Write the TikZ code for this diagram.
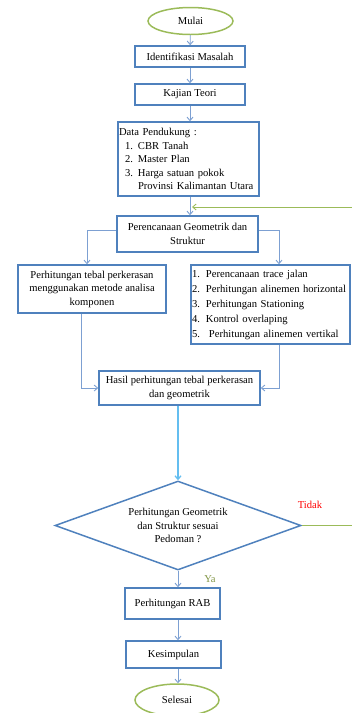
\documentclass[tikz,border=0pt]{standalone}
\usepackage{fontspec}
\setmainfont{Liberation Serif}
\usepackage{xcolor}
\usetikzlibrary{shapes.geometric,arrows.meta}
\definecolor{boxblue}{RGB}{79,129,189}
\definecolor{linkblue}{RGB}{125,160,210}
\definecolor{skyline}{RGB}{100,190,240}
\definecolor{oval}{RGB}{155,187,89}
\definecolor{yagreen}{RGB}{130,150,70}
\tikzstyle{proses}=[draw=boxblue,line width=1.5pt,align=center,inner sep=2pt,font=\fontsize{10.6}{13.5}\selectfont]
\tikzstyle{terminal}=[ellipse,draw=oval,line width=1.5pt,font=\fontsize{10.6}{13.5}\selectfont]
\tikzstyle{alur}=[draw=linkblue,line width=0.9pt,-{Straight Barb[length=3.5pt,width=6pt]}]

\begin{document}
\begin{tikzpicture}[x=1pt,y=-1pt]
					\useasboundingbox (0,0) rectangle (352,713);
					\node [terminal,minimum width=85pt,minimum height=27pt] (mulai) at (190.5,21) {Mulai};
					\node [proses,minimum width=110pt,minimum height=21pt] (identifikasi) at (190,56.5) {Identifikasi Masalah};
					\node [proses,minimum width=110pt,minimum height=21pt] (kajian) at (190,94.5) {Kajian Teori};
					\node [proses,minimum width=141pt,minimum height=74pt,align=left,inner xsep=1pt,text width=139pt] (data) at (188.5,159) {Data Pendukung :\\
						\hspace*{6pt}1.\hspace{5pt}CBR Tanah\\
						\hspace*{6pt}2.\hspace{5pt}Master Plan\\
						\hspace*{6pt}3.\hspace{5pt}Harga satuan pokok\\
						\hspace*{19pt}Provinsi Kalimantan Utara};
					\node [proses,minimum width=141pt,minimum height=36pt] (perencanaan) at (187.5,234) {Perencanaan Geometrik dan\\Struktur};
					\node [proses,minimum width=148pt,minimum height=48pt] (tebal) at (92,289) {Perhitungan tebal perkerasan\\menggunakan metode analisa\\komponen};
					\node [proses,minimum width=159pt,minimum height=79pt,align=left,inner xsep=1pt,text width=157pt,font=\fontsize{10.6}{15}\selectfont] (langkah) at (270.5,304.5) {1.\hspace{6pt}Perencanaan trace jalan\\
						2.\hspace{6pt}Perhitungan alinemen horizontal\\
						3.\hspace{6pt}Perhitungan Stationing\\
						4.\hspace{6pt}Kontrol overlaping\\
						5.\hspace{9pt}Perhitungan alinemen vertikal};
					\node [proses,minimum width=161pt,minimum height=34pt] (hasil) at (179.5,388) {Hasil perhitungan tebal perkerasan\\dan geometrik};
					\node [proses,diamond,aspect=2.76,inner sep=0pt,minimum width=246pt,minimum height=89pt] (cek) at (178,525.5) {Perhitungan Geometrik\\dan Struktur sesuai\\Pedoman ?};
					\node [proses,minimum width=95pt,minimum height=31pt] (rab) at (172.5,603.5) {Perhitungan RAB};
					\node [proses,minimum width=95pt,minimum height=27pt] (kesimpulan) at (173.5,654.5) {Kesimpulan};
					\node [terminal,minimum width=84pt,minimum height=32pt] (selesai) at (177,700) {Selesai};
					\node [text=red,font=\fontsize{10.6}{12}\selectfont] (tidak) at (310,505) {Tidak};
					\node [text=yagreen,font=\fontsize{10.6}{12}\selectfont] (ya) at (210,579) {Ya};
					% alur utama
					\draw [alur] (mulai) -- (identifikasi);
					\draw [alur] (identifikasi) -- (kajian);
					\draw [alur] (kajian) -- (kajian |- data.north);
					\draw [alur] (data.south -| kajian) -- (kajian |- perencanaan.north);
					\draw [alur] ([yshift=4pt]perencanaan.west) -| ([xshift=-5pt]tebal.north);
					\draw [alur] ([yshift=4pt]perencanaan.east) -| ([xshift=8.5pt]langkah.north);
					\draw [alur] ([xshift=-11pt]tebal.south) |- (hasil.west);
					\draw [alur] ([xshift=8.5pt]langkah.south) |- (hasil.east);
					\draw [alur,draw=skyline,line width=1.3pt] (hasil.south -| cek.north) -- (cek.north);
					\draw [alur] (cek.south) -- (cek.south |- rab.north);
					\draw [alur] (rab.south -| cek.south) -- (cek.south |- kesimpulan.north);
					\draw [alur] (kesimpulan.south -| cek.south) -- (cek.south |- selesai.north);
					% kembali jika tidak sesuai
					\draw [alur,draw=oval] (cek.east) -- ++(70,0) |- ([xshift=2pt]kajian |- 0,207);
\end{tikzpicture}
\end{document}
